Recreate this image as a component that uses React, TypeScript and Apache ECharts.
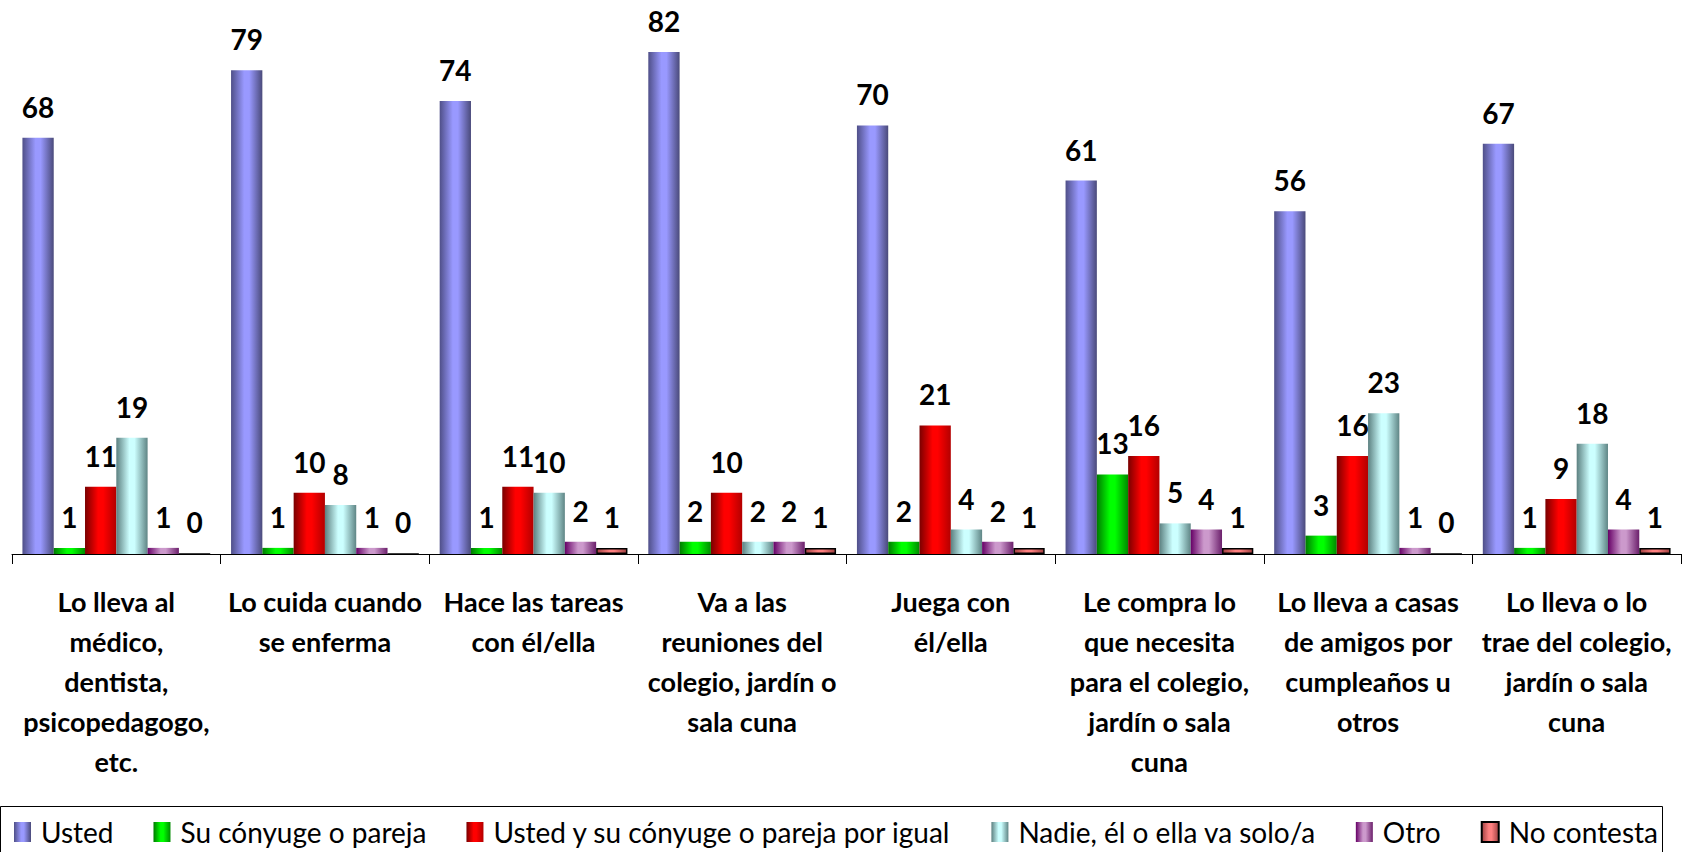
import React, { useEffect, useRef } from "react";
import * as echarts from "echarts";

const categories = [
  "Lo lleva al\nmédico,\ndentista,\npsicopedagogo,\netc.",
  "Lo cuida cuando\nse enferma",
  "Hace las tareas\ncon él/ella",
  "Va a las\nreuniones del\ncolegio, jardín o\nsala cuna",
  "Juega con\nél/ella",
  "Le compra lo\nque necesita\npara el colegio,\njardín o sala\ncuna",
  "Lo lleva a casas\nde amigos por\ncumpleaños u\notros",
  "Lo lleva o lo\ntrae del colegio,\njardín o sala\ncuna",
];

const seriesNames = [
  "Usted",
  "Su cónyuge o pareja",
  "Usted y su cónyuge o pareja por igual",
  "Nadie, él o ella va solo/a",
  "Otro",
  "No contesta",
];

const usted = [68, 79, 74, 82, 70, 61, 56, 67];
const conyuge = [1, 1, 1, 2, 2, 13, 3, 1];
const ambos = [11, 10, 11, 10, 21, 16, 16, 9];
const nadie = [19, 8, 10, 2, 4, 5, 23, 18];
const otro = [1, 1, 2, 2, 2, 4, 1, 4];
const noContesta = [0, 0, 1, 1, 1, 1, 0, 1];

const seriesData = [usted, conyuge, ambos, nadie, otro, noContesta];

const palettes: [string, string, string][] = [
  ["#4f4f88", "#9999ff", "#4a4a7a"],
  ["#007a00", "#00ff00", "#008a00"],
  ["#7a0000", "#ff0000", "#b30000"],
  ["#5c8080", "#ccffff", "#5f8585"],
  ["#660066", "#cc99cc", "#6b1f6b"],
  ["#a04040", "#ff8080", "#a04040"],
];

const FONT = "Lato, 'Open Sans', sans-serif";

function grad(c: [string, string, string]) {
  return new echarts.graphic.LinearGradient(0, 0, 1, 0, [
    { offset: 0, color: c[0] },
    { offset: 0.42, color: c[1] },
    { offset: 0.58, color: c[1] },
    { offset: 1, color: c[2] },
  ]);
}

export default function App() {
  const ref = useRef<HTMLDivElement>(null);
  useEffect(() => {
    if (!ref.current) return;
    const chart = echarts.init(ref.current, null, { renderer: "svg" });
    const series = seriesNames.map((name, i) => ({
      name,
      type: "bar",
      data: seriesData[i],
      barGap: "0%",
      barCategoryGap: "10%",
      itemStyle: {
        color: grad(palettes[i]),
        borderColor: i === 5 ? "#000" : undefined,
        borderWidth: i === 5 ? 1.5 : 0,
      },
      label: {
        show: true,
        position: "top",
        distance: 17,
        fontSize: 28,
        fontWeight: "bold",
        fontFamily: FONT,
        color: "#000",
      },
    }));
    chart.setOption({
      animation: false,
      backgroundColor: "#fff",
      grid: { left: 12, right: 12, top: 3, bottom: 298, containLabel: false },
      xAxis: {
        type: "category",
        data: categories,
        axisLine: { lineStyle: { color: "#000", width: 1 } },
        axisTick: { show: true, length: 10, lineStyle: { color: "#000" } },
        axisLabel: {
          interval: 0,
          margin: 27,
          fontSize: 27,
          lineHeight: 40,
          fontWeight: "bold",
          fontFamily: FONT,
          color: "#000",
        },
      },
      yAxis: {
        type: "value",
        min: 0,
        max: 90,
        show: false,
        splitLine: { show: false },
      },
      legend: {
        left: 14,
        top: 818,
        padding: 0,
        itemWidth: 17,
        itemHeight: 20,
        itemGap: 40,
        icon: "rect",
        textStyle: {
          fontSize: 28,
          fontFamily: FONT,
          color: "#000",
          padding: [0, 0, 0, 5],
        },
        data: seriesNames,
      },
      graphic: [
        {
          type: "rect",
          shape: { x: 0.5, y: 806.5, width: 1662, height: 60 },
          style: { fill: "none", stroke: "#000", lineWidth: 1 },
          silent: true,
        },
      ],
      series,
    });
    return () => chart.dispose();
  }, []);
  return (
    <div
      ref={ref}
      style={{ position: "fixed", left: 0, top: 0, width: 1693, height: 852 }}
    />
  );
}
